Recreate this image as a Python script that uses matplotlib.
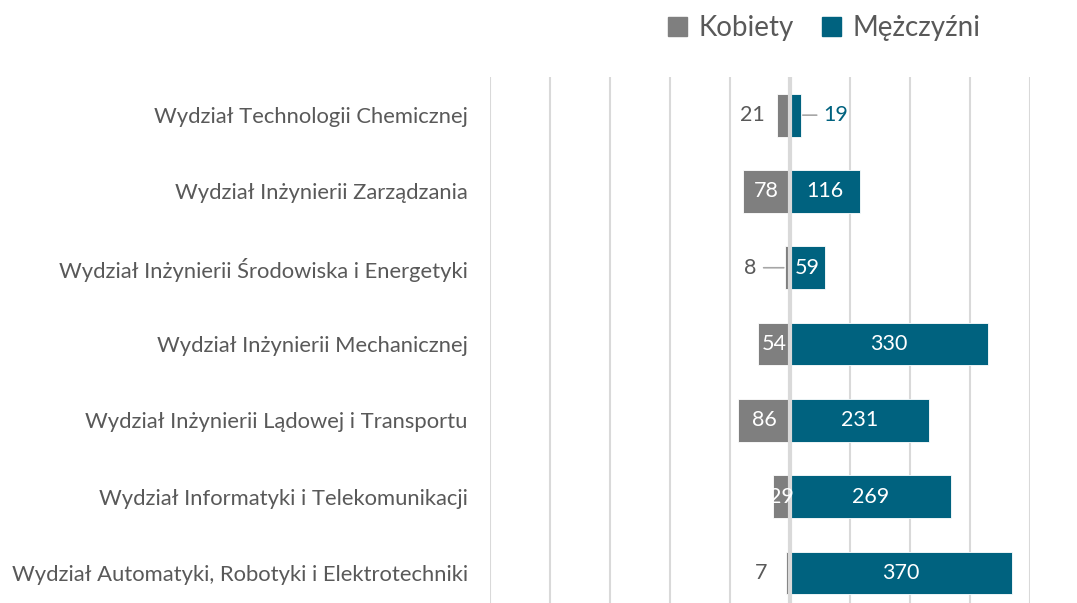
import numpy as np
import matplotlib.pyplot as plt
from matplotlib.patches import Patch

# dane
wydzialy = [
    "Wydział Technologii Chemicznej",
    "Wydział Inżynierii Zarządzania",
    "Wydział Inżynierii Środowiska i Energetyki",
    "Wydział Inżynierii Mechanicznej",
    "Wydział Inżynierii Lądowej i Transportu",
    "Wydział Informatyki i Telekomunikacji",
    "Wydział Automatyki, Robotyki i Elektrotechniki",
]
kobiety = [21, 78, 8, 54, 86, 29, 7]
mezczyzni = [19, 116, 59, 330, 231, 269, 370]
# etykiety przesuniete z linia odniesienia
z_linia_k = [False, False, True, False, False, False, False]

SZARY = "#7f7f7f"
NIEBIESKI = "#00627f"
SIATKA = "#d9d9d9"
TEKST = "#595959"

plt.rcParams['font.family'] = ['Lato', 'DejaVu Sans']

fig = plt.figure(figsize=(10.77, 6.03), dpi=100)
ax = fig.add_axes([490 / 1077, 0, 540 / 1077, 526 / 603])

y = np.arange(len(wydzialy))
k = np.array(kobiety)
m = np.array(mezczyzni)

ax.barh(y, -k, height=0.56, color=SZARY, edgecolor="white", linewidth=0.6, zorder=2)
ax.barh(y, m, height=0.56, color=NIEBIESKI, edgecolor="white", linewidth=0.6, zorder=2)
ax.axvline(0, color=SIATKA, lw=3, zorder=3)

ax.set_xlim(-500, 400)
ax.set_ylim(6.394, -0.5)
ax.set_xticks(np.arange(-500, 401, 100))
ax.grid(axis="x", color=SIATKA, lw=1.5)
ax.set_axisbelow(True)
ax.tick_params(length=0, labelbottom=False, pad=16)
for s in ax.spines.values():
    s.set_visible(False)
ax.set_yticks(y)
ax.set_yticklabels(wydzialy, color=TEKST, fontsize=15.8)

fs = 15.5
linia = dict(arrowstyle="-", color="#a6a6a6", lw=1.2, shrinkA=3, shrinkB=1)

# etykiety kobiety
for i, v in enumerate(kobiety):
    if v >= 25:
        ax.text(-v / 2, i, str(v), ha="center", va="center", color="white", fontsize=fs, zorder=4)
    elif z_linia_k[i]:
        ax.annotate(str(v), xy=(-v, i), xytext=(-25, 0), textcoords="offset points",
                    ha="center", va="center", color=TEKST, fontsize=fs, arrowprops=linia)
    else:
        ax.annotate(str(v), xy=(-v, i), xytext=(-18, 0), textcoords="offset points",
                    ha="center", va="center", color=TEKST, fontsize=fs)

# etykiety mezczyzni
for i, v in enumerate(mezczyzni):
    if v >= 50:
        ax.text(v / 2, i, str(v), ha="center", va="center", color="white", fontsize=fs, zorder=4)
    else:
        ax.annotate(str(v), xy=(v, i), xytext=(25, 0), textcoords="offset points",
                    ha="center", va="center", color=NIEBIESKI, fontsize=fs, arrowprops=linia)

uchwyty = [Patch(color=SZARY, label="Kobiety"), Patch(color=NIEBIESKI, label="Mężczyźni")]
fig.legend(handles=uchwyty, loc="center", bbox_to_anchor=(824 / 1077, 1 - 28 / 603),
           ncol=2, frameon=False, fontsize=20, labelcolor=TEKST,
           handlelength=0.7, handleheight=0.7, handletextpad=0.4, columnspacing=1.0)

fig.savefig("out.png", dpi=100)
